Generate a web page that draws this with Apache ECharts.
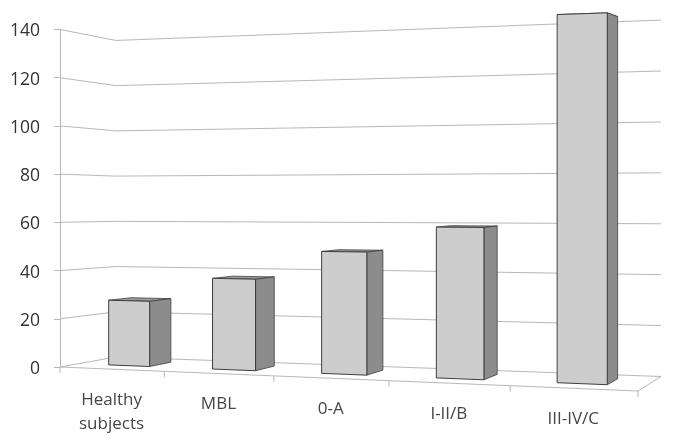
<!DOCTYPE html>
<html><head><meta charset="utf-8">
<style>html,body{margin:0;padding:0;background:#fff}#c{width:674px;height:445px;filter:blur(0.35px)}</style>
<script src="https://cdn.jsdelivr.net/npm/echarts@6/dist/echarts.min.js"></script>
</head><body><div id="c"></div>
<script>
var categories = ['Healthy\nsubjects', 'MBL', '0-A', 'I-II/B', 'III-IV/C'];
var barValues = [27.2, 37.3, 49, 59.2, 141];
var yTicks = [0, 20, 40, 60, 80, 100, 120, 140];
var xBoundaries = [0, 1, 2, 3, 4, 5];

// Perspective look of the floor: screen offsets of the back corners and height gain at each corner
var depthLeft = [56, -10], depthRight = [23, -14.5];
var gain = {fl: 1, bl: 0.938, fr: 1.125, br: 1.056};
var persp = 0.135;
var barStart = 0.3, barEnd = 0.7, depthFront = 0.33, depthBack = 0.74;

function project(api, u, d, v) {
  var a = api.coord([0, 0]), b = api.coord([5, 0]), p = api.coord([u, v]);
  var t = (p[0] - a[0]) / (b[0] - a[0]);
  var s = t / (1 + persp * (1 - t));
  var skewY = 24;
  var fx = a[0] + (b[0] - a[0]) * s, fy = a[1] + skewY * s;
  var x = fx + d * (depthLeft[0] + (depthRight[0] - depthLeft[0]) * s);
  var y = fy + d * (depthLeft[1] + (depthRight[1] - depthLeft[1]) * s);
  var gf = gain.fl + (gain.fr - gain.fl) * s, gb = gain.bl + (gain.br - gain.bl) * s;
  var g = gf + (gb - gf) * d;
  return [x, y - (a[1] - p[1]) * g];
}
function poly(pts, fill, stroke, w) {
  return {type: 'polygon', shape: {points: pts}, style: {fill: fill, stroke: stroke, lineWidth: w, lineJoin: 'round'}};
}
function line(pts, color, w) {
  return {type: 'polyline', shape: {points: pts}, style: {fill: null, stroke: color, lineWidth: w}};
}
var gridColor = '#b8b8b8';

function renderGrid(params, api) {
  var v = api.value(0);
  return line([project(api, 0, 0, v), project(api, 0, 1, v), project(api, 5, 1, v)], gridColor, 1);
}
function renderFloor(params, api) {
  var u = api.value(0);
  var kids = [];
  var p = project(api, u, 0, 0);
  kids.push(line([p, [p[0], p[1] + 6]], gridColor, 1));
  if (u === 0) {
    kids.push(line([project(api, 0, 0, 0), project(api, 5, 0, 0), project(api, 5, 1, 0)], gridColor, 1));
  }
  return {type: 'group', children: kids};
}
function renderBar(params, api) {
  var i = api.value(0), v = api.value(1);
  var u0 = i + barStart, u1 = i + barEnd;
  var fbl = project(api, u0, depthFront, 0), fbr = project(api, u1, depthFront, 0);
  var ftl = project(api, u0, depthFront, v), ftr = project(api, u1, depthFront, v);
  var bbr = project(api, u1, depthBack, 0), btr = project(api, u1, depthBack, v), btl = project(api, u0, depthBack, v);
  var edge = '#3f3f3f';
  return {type: 'group', children: [
    poly([ftl, ftr, btr, btl], '#9a9a9a', edge, 0.8),
    poly([fbr, bbr, btr, ftr], '#8c8c8c', edge, 0.8),
    poly([fbl, fbr, ftr, ftl], '#cdcdcd', edge, 1)
  ]};
}
function renderLabel(params, api) {
  var i = api.value(0);
  var p = project(api, i + 0.5, 0, 0);
  return {type: 'text', style: {
    text: categories[i], x: p[0], y: p[1] + 19, align: 'center', verticalAlign: 'top',
    font: '17px "Open Sans"', lineHeight: 24, fill: '#454545'
  }};
}

var chart = echarts.init(document.getElementById('c'), null, {renderer: 'canvas'});
chart.setOption({
  animation: false,
  backgroundColor: '#fff',
  grid: {left: 60, right: 36, top: 29.5, bottom: 78},
  xAxis: {type: 'value', min: 0, max: 5, interval: 1, show: false},
  yAxis: {
    type: 'value', min: 0, max: 140, interval: 20,
    axisLine: {show: true, lineStyle: {color: gridColor, width: 1}},
    axisTick: {show: true, length: 6, lineStyle: {color: gridColor}},
    splitLine: {show: false},
    axisLabel: {margin: 20, formatter: '{n|{value}}',
      rich: {n: {padding: [4, 0, 0, 0], fontFamily: 'Open Sans', fontSize: 17.5, color: '#333'}}}
  },
  series: [
    {type: 'custom', coordinateSystem: 'cartesian2d', renderItem: renderGrid, silent: true, z: 1,
     encode: {x: 1, y: 0}, data: yTicks.map(function (t) { return [t, 0]; })},
    {type: 'custom', coordinateSystem: 'cartesian2d', renderItem: renderFloor, silent: true, z: 1,
     encode: {x: 0, y: 1}, data: xBoundaries.map(function (u) { return [u, 0]; })},
    {type: 'custom', coordinateSystem: 'cartesian2d', renderItem: renderBar, z: 2,
     encode: {x: 0, y: 1}, data: barValues.map(function (v, i) { return [i, v]; })},
    {type: 'custom', coordinateSystem: 'cartesian2d', renderItem: renderLabel, silent: true, z: 3,
     encode: {x: 0}, data: categories.map(function (c, i) { return [i, 0]; })}
  ]
});
</script></body></html>
